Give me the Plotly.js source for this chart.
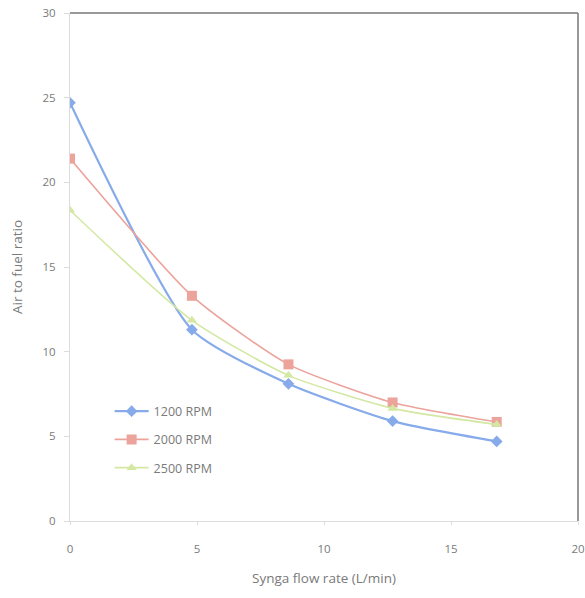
<!DOCTYPE html>
<html>
<head>
<meta charset="utf-8">
<script src="https://cdn.plot.ly/plotly-3.0.1.min.js"></script>
<style>html,body{margin:0;padding:0;background:#fff;}#chart{width:585px;height:598px;}</style>
</head>
<body>
<div id="chart"></div>
<script>
const flowRate = [0, 4.8, 8.6, 12.7, 16.8];
const rpm1200 = [24.7, 11.3, 8.1, 5.9, 4.7];
const rpm2000 = [21.4, 13.3, 9.25, 7.0, 5.85];
const rpm2500 = [18.35, 11.85, 8.6, 6.65, 5.7];
const seriesNames = ["1200 RPM", "2000 RPM", "2500 RPM"];

const colors = ["#86aaea", "#eba39c", "#d3e8a2"];
const symbols = ["diamond", "square", "triangle-up"];
const sizes = [9, 10, 9];
const ys = [rpm1200, rpm2000, rpm2500];

const traces = ys.map((y, i) => ({
  x: flowRate, y: y, name: seriesNames[i], type: "scatter", mode: "lines+markers",
  legendgroup: "g" + i,
  line: {color: colors[i], width: i === 0 ? 2.2 : 1.6, shape: "spline", smoothing: 0.6},
  marker: {color: colors[i], symbol: symbols[i], size: sizes[i]}
}));

const layout = {
  width: 585, height: 598,
  margin: {l: 70, r: 7, t: 13, b: 77},
  paper_bgcolor: "#fff", plot_bgcolor: "#fff",
  font: {family: "Open Sans, Liberation Sans, sans-serif", color: "#7a7a7a", size: 11},
  showlegend: true,
  legend: {x: 0.078, y: 0.245, xanchor: "left", yanchor: "top", bgcolor: "rgba(0,0,0,0)",
           traceorder: "grouped", font: {size: 12.5, color: "#7a7a7a"}, tracegroupgap: 9, itemwidth: 34},
  xaxis: {range: [0, 20], dtick: 5, tick0: 0, showgrid: false, zeroline: false,
          showline: true, linecolor: "#dcdcdc", linewidth: 1,
          ticks: "outside", ticklen: 3, tickcolor: "#dcdcdc", ticklabelstandoff: 14,
          tickfont: {size: 11.5, color: "#7a7a7a"},
          title: {text: "Synga flow rate (L/min)", font: {size: 13.5, color: "#7a7a7a"}, standoff: 18}},
  yaxis: {range: [0, 30], dtick: 5, tick0: 0, showgrid: false, zeroline: false,
          showline: true, linecolor: "#dcdcdc", linewidth: 1,
          ticks: "outside", ticklen: 5, tickcolor: "#dcdcdc", ticklabelstandoff: 6,
          tickfont: {size: 11.5, color: "#7a7a7a"},
          title: {text: "Air to fuel ratio", font: {size: 13.5, color: "#7a7a7a"}, standoff: 16}},
  shapes: [
    {type: "line", xref: "paper", yref: "paper", x0: 0, x1: 1, y0: 1, y1: 1, line: {color: "#777", width: 1.5}},
    {type: "line", xref: "paper", yref: "paper", x0: 1, x1: 1, y0: 0, y1: 1, line: {color: "#777", width: 1.5}}
  ]
};

Plotly.newPlot("chart", traces, layout, {displayModeBar: false, staticPlot: true});
</script>
</body>
</html>
